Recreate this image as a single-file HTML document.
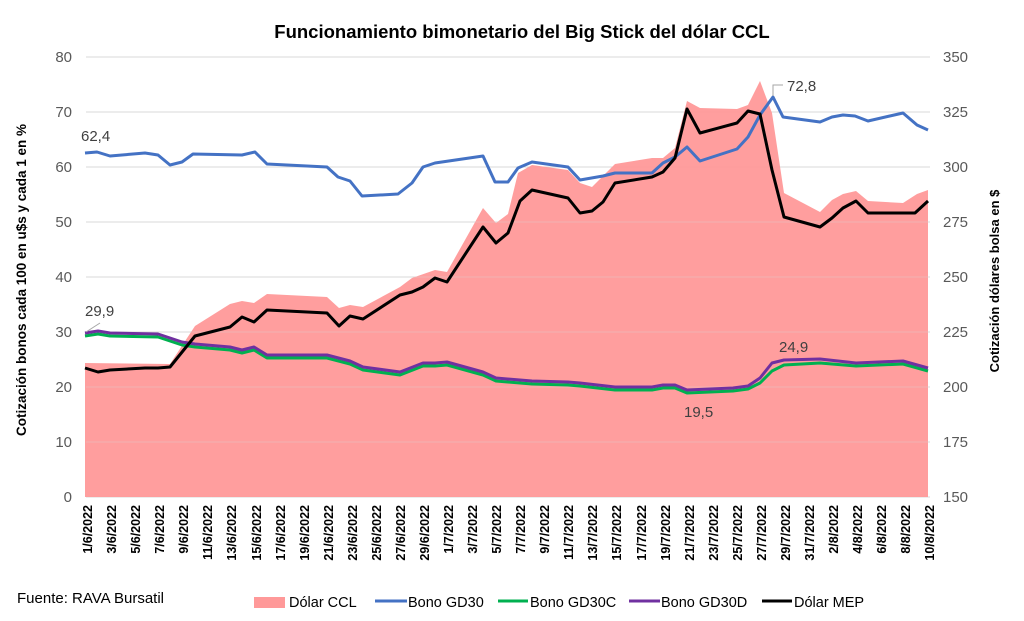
<!DOCTYPE html>
<html><head><meta charset="utf-8"><style>
body{margin:0;background:#fff;}
svg text{font-family:"Liberation Sans",sans-serif;}
</style></head><body>
<svg width="1024" height="616" viewBox="0 0 1024 616" xmlns="http://www.w3.org/2000/svg">
<rect width="1024" height="616" fill="#fff"/>
<text x="522" y="38" text-anchor="middle" font-size="18.5" font-weight="bold" fill="#000">Funcionamiento bimonetario del Big Stick del dólar CCL</text>
<g stroke="#d9d9d9" stroke-width="1">
<line x1="86" x2="930" y1="57" y2="57"/><line x1="86" x2="930" y1="112" y2="112"/><line x1="86" x2="930" y1="167" y2="167"/><line x1="86" x2="930" y1="222" y2="222"/><line x1="86" x2="930" y1="277" y2="277"/><line x1="86" x2="930" y1="332" y2="332"/><line x1="86" x2="930" y1="387" y2="387"/><line x1="86" x2="930" y1="442" y2="442"/><line x1="86" x2="930" y1="497" y2="497"/>
</g>
<polygon fill="#ff9999" fill-opacity="0.95" points="85,497 85,363 170,364 195,326 230,304 242,301 254,303 267,294 327,297 339,308 350,305 363,307 400,287 412,278 435,270 447,272 483,208 496,223 508,214 518,173 532,165 568,170 580,183 592,187 615,164 652,158 663,158 675,148 687,101 700,108 737,109 748,105 760,81 772,113 784,193 820,212 832,200 843,194 856,191 868,201 903,203 917,194 928,190 928,497"/>
<g stroke="#d9d9d9" stroke-opacity="0.35" stroke-width="1">
<line x1="86" x2="930" y1="332" y2="332"/><line x1="86" x2="930" y1="387" y2="387"/><line x1="86" x2="930" y1="442" y2="442"/><line x1="86" x2="930" y1="277" y2="277"/><line x1="86" x2="930" y1="222" y2="222"/>
</g>
<g fill="none" stroke-width="3" stroke-linejoin="round">
<polyline stroke="#4472c4" points="85,153 97,152 110,156 145,153 158,155 170,165 182,162 193,154 242,155 255,152 267,164 327,167 338,177 350,181 362,196 398,194 412,183 423,167 435,163 483,156 495,182 508,182 518,168 532,162 568,167 580,180 603,176 615,173 652,173 663,163 675,157 687,147 700,161 737,149 748,137 760,115 773,97 783,117 820,122 832,117 843,115 855,116 868,121 903,113 917,125 928,130"/>
<polyline stroke="#00b050" transform="translate(0,3)" points="85,333 98,331 110,333 158,334 182,342 195,344 230,347 242,350 254,347 267,355 327,355 350,361 363,367 400,372 423,363 435,363 447,362 483,372 496,378 532,381 568,382 580,383 615,387 652,387 663,385 675,385 687,390 733,388 748,386 760,380 772,368 784,362 820,360 856,363 903,361 928,368"/>
<polyline stroke="#7030a0" points="85,333 98,331 110,333 158,334 182,342 195,344 230,347 242,350 254,347 267,355 327,355 350,361 363,367 400,372 423,363 435,363 447,362 483,372 496,378 532,381 568,382 580,383 615,387 652,387 663,385 675,385 687,390 733,388 748,386 760,378 772,363 784,360 820,359 856,363 903,361 928,368"/>
<polyline stroke="#000" points="85,368 98,372 110,370 145,368 158,368 170,367 195,336 230,327 242,317 254,322 267,310 327,313 339,326 350,316 363,319 400,295 412,292 423,287 435,278 447,282 483,227 496,243 508,233 520,201 532,190 568,198 580,213 592,211 603,202 615,183 652,177 663,172 675,158 687,109 700,133 737,123 748,111 760,114 772,170 784,217 820,227 832,218 843,208 856,201 868,213 915,213 928,201"/>
</g>
<g font-size="15" fill="#404040">
<text x="81" y="141">62,4</text>
<text x="85" y="316">29,9</text>
<text x="787" y="91">72,8</text>
<text x="779" y="352">24,9</text>
<text x="684" y="417">19,5</text>
</g>
<polyline fill="none" stroke="#a6a6a6" stroke-width="1" points="86,332 100,323"/>
<polyline fill="none" stroke="#a6a6a6" stroke-width="1" points="773,96 773,85 783,85"/>
<g font-size="15" fill="#595959" text-anchor="end">
<text x="72" y="62">80</text><text x="72" y="117">70</text><text x="72" y="172">60</text><text x="72" y="227">50</text><text x="72" y="282">40</text><text x="72" y="337">30</text><text x="72" y="392">20</text><text x="72" y="447">10</text><text x="72" y="502">0</text>
</g>
<g font-size="15" fill="#595959">
<text x="943" y="62">350</text><text x="943" y="117">325</text><text x="943" y="172">300</text><text x="943" y="227">275</text><text x="943" y="282">250</text><text x="943" y="337">225</text><text x="943" y="392">200</text><text x="943" y="447">175</text><text x="943" y="502">150</text>
</g>
<text transform="translate(26,280) rotate(-90)" text-anchor="middle" font-size="13.5" font-weight="bold">Cotización bonos cada 100 en u$s y cada 1 en %</text>
<text transform="translate(999,281) rotate(-90)" text-anchor="middle" font-size="13" font-weight="bold">Cotización dólares bolsa en $</text>
<g font-size="12.5" font-weight="bold" fill="#000" text-anchor="end">
<text transform="translate(92,505) rotate(-90)">1/6/2022</text>
<text transform="translate(116,505) rotate(-90)">3/6/2022</text>
<text transform="translate(140,505) rotate(-90)">5/6/2022</text>
<text transform="translate(164,505) rotate(-90)">7/6/2022</text>
<text transform="translate(188,505) rotate(-90)">9/6/2022</text>
<text transform="translate(212,505) rotate(-90)">11/6/2022</text>
<text transform="translate(236,505) rotate(-90)">13/6/2022</text>
<text transform="translate(261,505) rotate(-90)">15/6/2022</text>
<text transform="translate(285,505) rotate(-90)">17/6/2022</text>
<text transform="translate(309,505) rotate(-90)">19/6/2022</text>
<text transform="translate(333,505) rotate(-90)">21/6/2022</text>
<text transform="translate(357,505) rotate(-90)">23/6/2022</text>
<text transform="translate(381,505) rotate(-90)">25/6/2022</text>
<text transform="translate(405,505) rotate(-90)">27/6/2022</text>
<text transform="translate(429,505) rotate(-90)">29/6/2022</text>
<text transform="translate(453,505) rotate(-90)">1/7/2022</text>
<text transform="translate(477,505) rotate(-90)">3/7/2022</text>
<text transform="translate(501,505) rotate(-90)">5/7/2022</text>
<text transform="translate(525,505) rotate(-90)">7/7/2022</text>
<text transform="translate(549,505) rotate(-90)">9/7/2022</text>
<text transform="translate(573,505) rotate(-90)">11/7/2022</text>
<text transform="translate(597,505) rotate(-90)">13/7/2022</text>
<text transform="translate(621,505) rotate(-90)">15/7/2022</text>
<text transform="translate(646,505) rotate(-90)">17/7/2022</text>
<text transform="translate(670,505) rotate(-90)">19/7/2022</text>
<text transform="translate(694,505) rotate(-90)">21/7/2022</text>
<text transform="translate(718,505) rotate(-90)">23/7/2022</text>
<text transform="translate(742,505) rotate(-90)">25/7/2022</text>
<text transform="translate(766,505) rotate(-90)">27/7/2022</text>
<text transform="translate(790,505) rotate(-90)">29/7/2022</text>
<text transform="translate(814,505) rotate(-90)">31/7/2022</text>
<text transform="translate(838,505) rotate(-90)">2/8/2022</text>
<text transform="translate(862,505) rotate(-90)">4/8/2022</text>
<text transform="translate(886,505) rotate(-90)">6/8/2022</text>
<text transform="translate(910,505) rotate(-90)">8/8/2022</text>
<text transform="translate(934,505) rotate(-90)">10/8/2022</text>
</g>
<text x="17" y="603" font-size="15" fill="#000">Fuente: RAVA Bursatil</text>
<g font-size="14.5" fill="#000">
<rect x="254" y="597" width="31" height="11" fill="#ff9999"/>
<text x="289" y="607">Dólar CCL</text>
<line x1="375" x2="407" y1="601" y2="601" stroke="#4472c4" stroke-width="3"/>
<text x="408" y="607">Bono GD30</text>
<line x1="498" x2="528" y1="601" y2="601" stroke="#00b050" stroke-width="3"/>
<text x="530" y="607">Bono GD30C</text>
<line x1="629" x2="660" y1="601" y2="601" stroke="#7030a0" stroke-width="3"/>
<text x="661" y="607">Bono GD30D</text>
<line x1="762" x2="792" y1="601" y2="601" stroke="#000" stroke-width="3"/>
<text x="794" y="607">Dólar MEP</text>
</g>
</svg>
</body></html>
